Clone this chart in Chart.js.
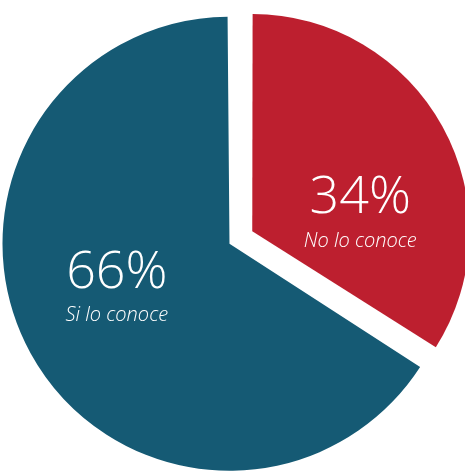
<!DOCTYPE html>
<html>
<head>
<meta charset="utf-8">
<script src="https://cdn.jsdelivr.net/npm/chart.js@4/dist/chart.umd.min.js"></script>
<style>
  html, body { margin: 0; padding: 0; background: #fff; overflow: hidden; }
  #wrap { width: 465px; height: 474px; }
</style>
</head>
<body>
<div id="wrap"><canvas id="pieChart"></canvas></div>
<script>
const categories = ['No lo conoce', 'Si lo conoce'];
const percentages = [34, 66];
const sliceColors = ['#bd1f2f', '#155a74'];
// desplazamiento manual de las etiquetas respecto al centroide (px)
const labelNudge = [[26, 33], [-29, 4]];

/** Etiquetas dentro de cada porción */
const sliceLabels = {
  id: 'sliceLabels',
  afterDatasetsDraw(chart) {
    const ctx = chart.ctx;
    const arcs = chart.getDatasetMeta(0).data;
    ctx.save();
    ctx.fillStyle = '#ffffff';
    ctx.textAlign = 'center';
    ctx.textBaseline = 'middle';
    arcs.forEach((arc, i) => {
      const { x, y, startAngle, endAngle, outerRadius } = arc.getProps(['x', 'y', 'startAngle', 'endAngle', 'outerRadius'], true);
      const mid = (startAngle + endAngle) / 2;
      const cx = x + Math.cos(mid) * outerRadius * 0.5 + labelNudge[i][0];
      const cy = y + Math.sin(mid) * outerRadius * 0.5 + labelNudge[i][1];
      ctx.font = '300 52px "Open Sans"';
      ctx.fillText(percentages[i] + '%', cx, cy - 21);
      ctx.font = 'italic 300 20px "Open Sans"';
      ctx.fillText(categories[i], cx, cy + 22);
    });
    ctx.restore();
  }
};

new Chart(document.getElementById('pieChart'), {
  type: 'pie',
  data: {
    labels: categories,
    datasets: [{
      data: percentages,
      backgroundColor: sliceColors,
      borderWidth: 0,
      offset: [56, 48]
    }]
  },
  options: {
    responsive: true,
    maintainAspectRatio: false,
    animation: false,
    events: [],
    radius: 215,
    layout: { padding: { left: 15, top: 2 } },
    plugins: { legend: { display: false }, tooltip: { enabled: false } }
  },
  plugins: [sliceLabels]
});
</script>
</body>
</html>
